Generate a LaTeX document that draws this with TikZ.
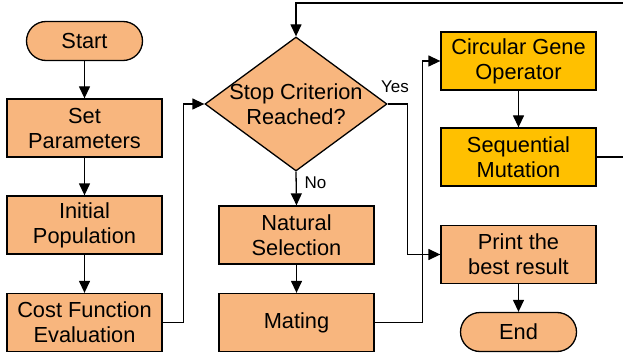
\documentclass[tikz,border=0pt]{standalone}
\usepackage{fontspec}
\setmainfont{Liberation Sans}
\usetikzlibrary{arrows.meta,shapes.geometric}
\definecolor{peach}{HTML}{F8B67E}
\definecolor{gold}{HTML}{FFC000}
\tikzset{
  box/.style={draw=black, line width=1.3pt, fill=peach, minimum width=155pt, minimum height=58pt, inner sep=0pt, align=center, font=\fontsize{21.8}{25}\selectfont},
  goldbox/.style={box, fill=gold},
  pill/.style={draw=black, line width=1.3pt, fill=peach, minimum width=116pt, minimum height=39pt, inner sep=0pt, rounded corners=19.5pt, font=\fontsize{21.8}{25}\selectfont},
  decision/.style={diamond, draw=black, line width=1.3pt, fill=peach, minimum width=182pt, minimum height=134pt, inner sep=0pt, aspect=1.36},
  conn/.style={line width=1.3pt, -{Triangle[length=12pt,width=11pt]}},
  plainline/.style={line width=1.3pt},
  lbl/.style={font=\fontsize{17}{20}\selectfont, inner sep=0pt}
}
\begin{document}
\begin{tikzpicture}[x=1pt,y=-1pt]
\useasboundingbox (0,0) rectangle (623,358);
\node[pill] (start) at (84.5,41) {Start};
\node[box] (setp) at (84.5,128) {Set\\Parameters};
\node[box] (init) at (84.5,225) {Initial\\Population};
\node[box] (cost) at (84.5,322.5) {Cost Function\\Evaluation};
\node[decision] (dia) at (296,104) {};
\node[align=center, font=\fontsize{21.8}{25}\selectfont, inner sep=0pt] (diatext) at (dia.center) {Stop Criterion\\Reached?};
\node[box] (nat) at (296.5,235) {Natural\\Selection};
\node[box] (mate) at (296.5,322.5) {Mating};
\node[goldbox] (cgo) at (518.5,61) {Circular Gene\\Operator};
\node[goldbox] (seq) at (518.5,157) {Sequential\\Mutation};
\node[box] (print) at (518.5,254.5) {Print the\\best result};
\node[pill] (end) at (518.5,332) {End};
\node[lbl] (yes) at (395,87) {Yes};
\node[lbl] (no) at (315.5,183) {No};
\coordinate (r1) at (623,157);
\coordinate (r2) at (623,3);
\draw[conn] (start) -- (setp);
\draw[conn] (setp) -- (init);
\draw[conn] (init) -- (cost);
\draw[conn] (cost.east) -- ++(21,0) |- (dia.west);
\draw[conn] (dia.south) -- (nat.north);
\draw[conn] (nat) -- (mate);
\draw[conn] (mate.east) -- ++(48,0) |- (cgo.west);
\draw[conn] (dia.east) -- ++(20,0) |- (print.west);
\draw[conn] (cgo) -- (seq);
\draw[conn] (print) -- (end);
\draw[plainline] (seq.east) -- (r1);
\draw[conn] (r2) -| (dia.north);
\end{tikzpicture}
\end{document}
